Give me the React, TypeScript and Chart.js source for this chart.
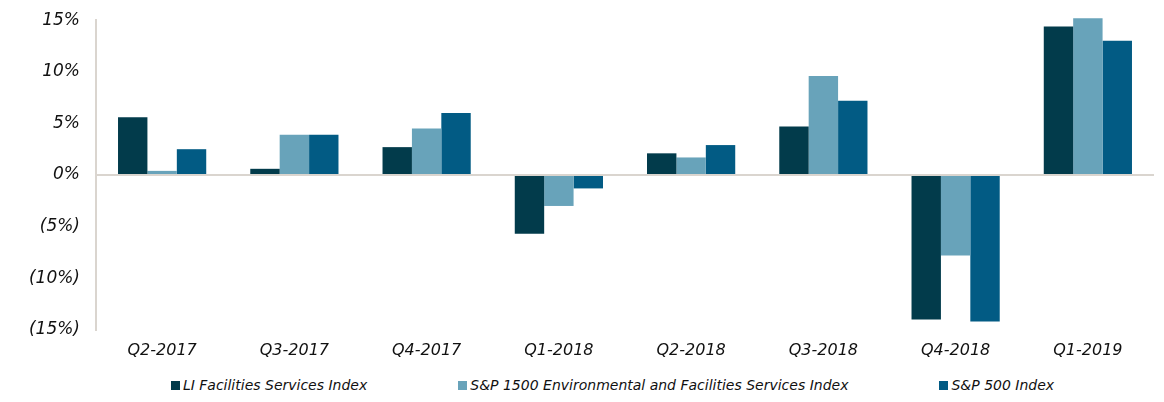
import React, { useEffect, useRef } from "react";
import { Chart, registerables } from "chart.js";

Chart.register(...registerables);

const categories = ["Q2-2017", "Q3-2017", "Q4-2017", "Q1-2018", "Q2-2018", "Q3-2018", "Q4-2018", "Q1-2019"];
const liFacilities = [5.6, 0.6, 2.7, -5.7, 2.1, 4.7, -14.0, 14.4];
const sp1500Env = [0.4, 3.9, 4.5, -3.0, 1.7, 9.6, -7.8, 15.2];
const sp500 = [2.5, 3.9, 6.0, -1.3, 2.9, 7.2, -14.2, 13.0];
const seriesNames = ["LI Facilities Services Index", "S&P 1500 Environmental and Facilities Services Index", "S&P 500 Index"];
const seriesColors = ["#023B4B", "#68A3BA", "#025B84"];
const yTicks = [-15, -10, -5, 0, 5, 10, 15];

const FONT = "'DejaVu Sans', Verdana, sans-serif";

export default function App() {
  const ref = useRef<HTMLCanvasElement | null>(null);
  useEffect(() => {
    if (!ref.current) return;
    const chart = new Chart(ref.current, {
      type: "bar",
      data: {
        labels: categories,
        datasets: [
          { label: seriesNames[0], data: liFacilities, backgroundColor: seriesColors[0], clip: false },
          { label: seriesNames[1], data: sp1500Env, backgroundColor: seriesColors[1], clip: false },
          { label: seriesNames[2], data: sp500, backgroundColor: seriesColors[2], clip: false },
        ],
      },
      options: {
        animation: false,
        responsive: false,
        layout: { padding: { left: 0, right: 2, top: 0, bottom: 0 } },
        datasets: { bar: { categoryPercentage: 0.667, barPercentage: 1.0 } },
        plugins: {
          legend: { display: false },
          tooltip: { enabled: false },
        },
        scales: {
          x: {
            grid: { display: false },
            border: { display: false },
            ticks: {
              color: "#111",
              padding: 3,
              maxRotation: 0,
              font: { family: FONT, size: 16, style: "italic" },
            },
          },
          y: {
            min: -15,
            max: 15,
            afterFit: (s: any) => { s.width = 88; },
            afterBuildTicks: (s: any) => { s.ticks = yTicks.map((v) => ({ value: v })); },
            grid: {
              drawTicks: false,
              lineWidth: 2,
              color: (ctx: any) => (ctx.tick && ctx.tick.value === 0 ? "#DAD5CF" : "rgba(0,0,0,0)"),
            },
            border: { display: true, color: "#DAD5CF", width: 2 },
            ticks: {
              color: "#111",
              padding: 16,
              font: { family: FONT, size: 17, style: "italic" },
              callback: (v: any) => (Number(v) < 0 ? `(${-Number(v)}%)` : `${v}%`),
            },
          },
        },
      },
    });
    return () => chart.destroy();
  }, []);
  return (
    <div>
      <canvas ref={ref} width={1148} height={369} style={{ display: "block", marginTop: -14 }} />
      <div
        style={{
          display: "flex",
          justifyContent: "center",
          gap: 91,
          paddingLeft: 61,
          marginTop: 14,
          fontFamily: FONT,
          fontSize: 14,
          fontStyle: "italic",
          color: "#111",
          lineHeight: "17px",
        }}
      >
        {seriesNames.map((name, i) => (
          <div key={name} style={{ display: "flex", alignItems: "center", whiteSpace: "nowrap" }}>
            <span style={{ display: "inline-block", width: 9, height: 9, background: seriesColors[i], marginRight: 3 }} />
            <span>{name}</span>
          </div>
        ))}
      </div>
    </div>
  );
}
